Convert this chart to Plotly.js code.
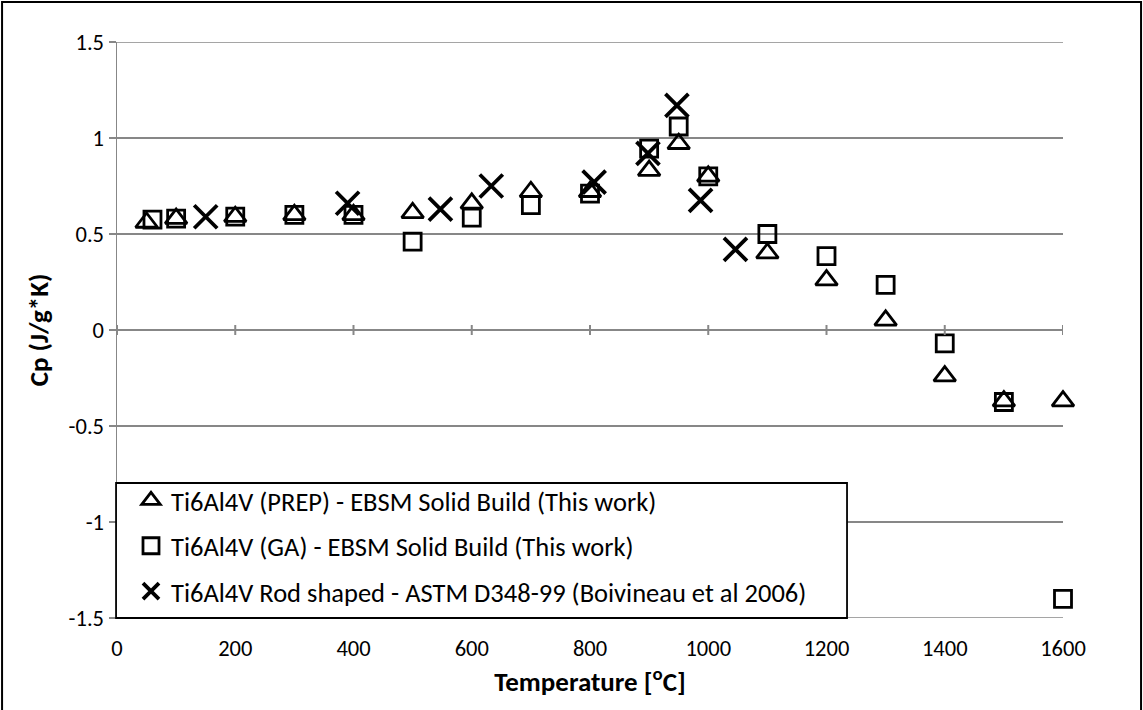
<!DOCTYPE html>
<html>
<head>
<meta charset="utf-8">
<script src="https://cdn.plot.ly/plotly-3.0.1.min.js"></script>
<style>
  html, body { margin: 0; padding: 0; background: #fff; }
  #chart { width: 1143px; height: 710px; }
</style>
</head>
<body>
<div id="chart"></div>
<script>
// ---- data ----
const prepTemp = [50, 100, 200, 300, 400, 500, 600, 700, 800, 900, 950, 1000, 1100, 1200, 1300, 1400, 1500, 1600];
const prepCp   = [0.56, 0.58, 0.59, 0.60, 0.60, 0.61, 0.66, 0.72, 0.72, 0.83, 0.97, 0.80, 0.40, 0.26, 0.05, -0.24, -0.37, -0.37];

const gaTemp = [60, 100, 200, 300, 400, 500, 600, 700, 800, 900, 950, 1000, 1100, 1200, 1300, 1400, 1500, 1600];
const gaCp   = [0.575, 0.58, 0.59, 0.60, 0.60, 0.46, 0.585, 0.65, 0.71, 0.945, 1.06, 0.80, 0.50, 0.385, 0.235, -0.07, -0.375, -1.40];

const rodTemp = [150, 390, 547, 633, 807, 898, 947, 987, 1046];
const rodCp   = [0.59, 0.66, 0.63, 0.75, 0.77, 0.92, 1.17, 0.675, 0.42];

const seriesNames = [
  "Ti6Al4V (PREP) - EBSM Solid Build (This work)",
  "Ti6Al4V (GA) - EBSM Solid Build (This work)",
  "Ti6Al4V Rod shaped - ASTM D348-99 (Boivineau et al 2006)"
];
const xTicks = [0, 200, 400, 600, 800, 1000, 1200, 1400, 1600];
const yTicks = [-1.5, -1, -0.5, 0, 0.5, 1, 1.5];
const yTickLabels = ["-1.5", "-1", "-0.5", "0", "0.5", "1", "1.5"];

const FONT = "Carlito, Calibri, Lato, sans-serif";
const GRID = "#878787";

const traces = [
  {x: prepTemp, y: prepCp, name: seriesNames[0], legendgroup: "a", type: "scatter", mode: "markers", cliponaxis: false,
   marker: {symbol: "triangle-up-open", size: 19, color: "#000", line: {color: "#000", width: 2.8}}},
  {x: gaTemp, y: gaCp, name: seriesNames[1], legendgroup: "b", type: "scatter", mode: "markers", cliponaxis: false,
   marker: {symbol: "square-open", size: 17, color: "#000", line: {color: "#000", width: 2.8}}},
  {x: rodTemp, y: rodCp, name: seriesNames[2], legendgroup: "c", type: "scatter", mode: "markers", cliponaxis: false,
   marker: {symbol: "x-thin-open", size: 23, color: "#000", line: {color: "#000", width: 3.8}}}
];

// tick marks crossing the y=0 line (the x axis crosses at zero)
const shapes = xTicks.map(t => ({
  type: "line", xref: "x", yref: "y", x0: t, x1: t, y0: -0.026, y1: 0.026,
  line: {color: GRID, width: 2}
}));
// gridlines at the two ends of the value range
[yTicks[0], yTicks[yTicks.length - 1]].forEach(v => shapes.push({
  type: "line", xref: "paper", yref: "y", layer: "below", x0: 0, x1: 1, y0: v, y1: v,
  line: {color: GRID, width: 1.5}
}));
// legend frame (white box over the gridlines)
shapes.push({
  type: "rect", xref: "paper", yref: "paper", layer: "above",
  x0: -0.001, x1: 0.7717, y0: 0, y1: 0.2344,
  fillcolor: "#fff", line: {color: "#000", width: 1.8}
});
// outer chart frame
shapes.push({
  type: "rect", xref: "paper", yref: "paper",
  x0: -0.1215, x1: 1.0825, y0: -0.17, y1: 1.0695,
  line: {color: "#000", width: 2}
});

const layout = {
  width: 1143, height: 710,
  margin: {l: 117, r: 80, t: 42, b: 92},
  paper_bgcolor: "#fff", plot_bgcolor: "#fff",
  font: {family: FONT, color: "#000", size: 22},
  showlegend: true,
  xaxis: {
    range: [0, 1600], tickvals: xTicks, ticktext: xTicks.map(String),
    showgrid: false, zeroline: false, showline: false,
    ticks: "outside", ticklen: 10, tickcolor: "rgba(0,0,0,0)",
    tickfont: {family: FONT, size: 22.5, color: "#000"},
    title: {text: "Temperature [<sup>o</sup>C]", font: {family: FONT, size: 27, color: "#000", weight: "bold"}, standoff: 8},
    automargin: false, fixedrange: true
  },
  yaxis: {
    range: [-1.5, 1.5], tickvals: yTicks, ticktext: yTickLabels,
    showgrid: true, gridcolor: GRID, gridwidth: 1.5,
    zeroline: true, zerolinecolor: GRID, zerolinewidth: 1.5,
    showline: true, linecolor: GRID, linewidth: 1.5,
    ticks: "outside", ticklen: 7, tickcolor: GRID, tickwidth: 1.5,
    tickfont: {family: FONT, size: 22.5, color: "#000"},
    title: {text: "Cp (J/g*K)", font: {family: FONT, size: 27, color: "#000", weight: "bold"}, standoff: 12},
    automargin: false, fixedrange: true
  },
  legend: {
    x: 0, xanchor: "left", y: 0.2455, yanchor: "top",
    bgcolor: "rgba(0,0,0,0)", borderwidth: 0,
    font: {family: FONT, size: 26.5, color: "#000"},
    traceorder: "grouped", tracegroupgap: 8,
    indentation: 14, itemsizing: "trace"
  },
  shapes: shapes
};

Plotly.newPlot("chart", traces, layout, {displayModeBar: false, staticPlot: true});
</script>
</body>
</html>
